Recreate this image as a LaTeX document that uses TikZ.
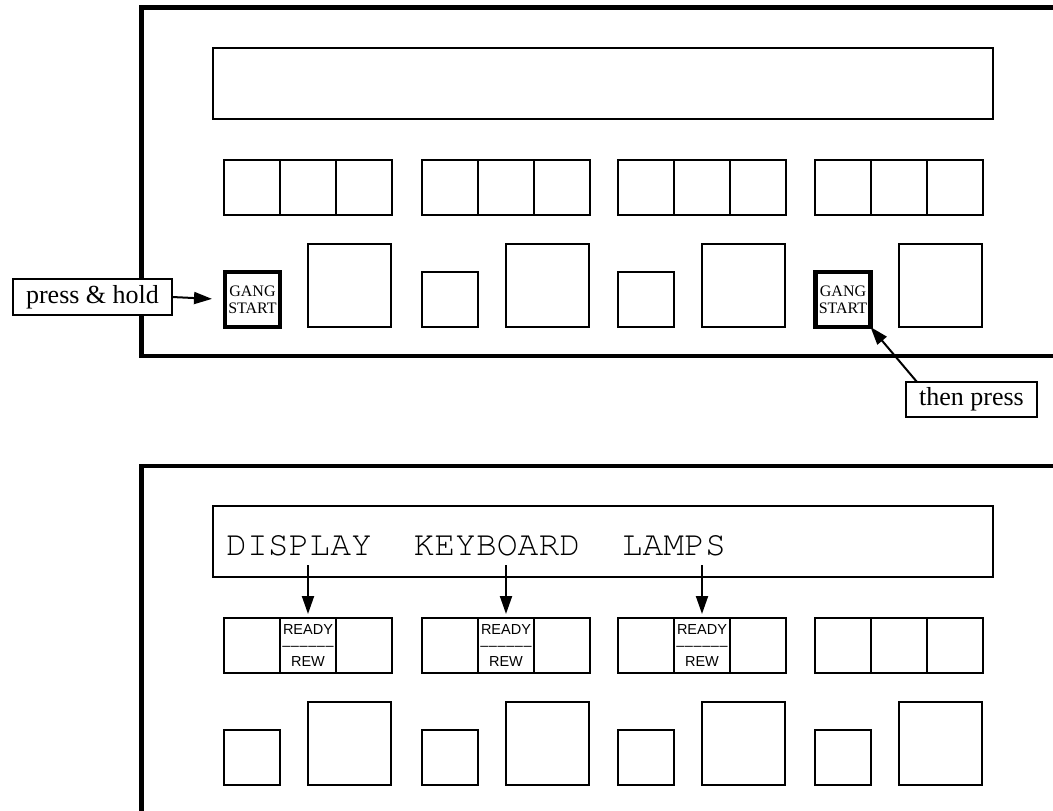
\documentclass[tikz,border=0pt]{standalone}
\usepackage{fontspec}
\setmainfont{Liberation Serif}
\setsansfont{Liberation Sans}
\setmonofont{TeX Gyre Cursor}
\usetikzlibrary{arrows.meta}
\begin{document}
\begin{tikzpicture}[x=1pt,y=-1pt,
  panel/.style={line width=4.5pt},
  disp/.style={draw,line width=2pt,inner sep=0pt,outer sep=0pt,minimum width=780pt,minimum height=71pt},
  cell/.style={draw,line width=2pt,inner sep=0pt,outer sep=0pt,minimum width=56pt,minimum height=55pt},
  big/.style={draw,line width=2pt,inner sep=0pt,outer sep=0pt,minimum width=83pt,minimum height=83pt},
  gang/.style={draw,line width=4.5pt,inner sep=0pt,outer sep=0pt,minimum width=55pt,minimum height=55pt,align=center,font=\fontsize{16}{17.3}\selectfont},
  ready/.style={cell,align=center,font=\sffamily\fontsize{14.5}{16}\selectfont},
  callout/.style={draw,fill=white,line width=2pt,inner sep=0pt,outer sep=0pt,font=\fontsize{26}{30}\selectfont},
  arr/.style={line width=2pt,-{Triangle[length=18pt,width=12pt]}}]
\useasboundingbox (0,0) rectangle (1053,811);

% ---------- top panel ----------
\draw[panel] (1060,7.5) -- (141.5,7.5) -- (141.5,356) -- (1060,356);
\node[disp] (tdisp) at (603,83) {};
\foreach \g/\x in {1/224,2/422,3/618,4/815}{
  \node[cell] (ta\g) at (\x+28,187.5) {};
  \node[cell] (tb\g) at (\x+84,187.5) {};
  \node[cell] (tc\g) at (\x+140,187.5) {};
  \node[big] (tbig\g) at (\x+125.5,285.5) {};
}
\node[gang] (gang1) at (252.5,299.5) {GANG\\START};
\node[cell] (tsmall2) at (450,299.5) {};
\node[cell] (tsmall3) at (646,299.5) {};
\node[gang] (gang4) at (843,299.5) {GANG\\START};

\node[callout,minimum width=159pt,minimum height=36pt] (press) at (92.5,297) {press \& hold};
\node[callout,minimum width=131pt,minimum height=35pt] (then) at (971.5,399.5) {then press};
\draw[arr,shorten >=13pt] (press.east) -- (gang1.west);
\coordinate (thenstart) at ([xshift=11pt]then.north west);
\draw[arr] (thenstart) -- (gang4.south east);

% ---------- bottom panel ----------
\draw[panel] (1060,466) -- (141.5,466) -- (141.5,820);
\node[disp] (bdisp) at (603,541) {};
\node[anchor=base west,inner sep=0pt,font=\ttfamily\fontsize{34.7}{40}\selectfont] (words) at (226,555) {DISPLAY\ \ KEYBOARD\ \ LAMPS};
\foreach \g/\x in {1/224,2/422,3/618}{
  \node[cell] (ba\g) at (\x+28,645.5) {};
  \node[ready] (bb\g) at (\x+84,645.5) {READY\\–\kern0.6pt–\kern0.6pt–\kern0.6pt–\kern0.6pt–\kern0.6pt–\\REW};
  \node[cell] (bc\g) at (\x+140,645.5) {};
  \coordinate (src\g) at (\x+84,565);
  \draw[arr,shorten >=4pt] (src\g) -- (bb\g.north);
}
\node[cell] (ba4) at (843,645.5) {};
\node[cell] (bb4) at (899,645.5) {};
\node[cell] (bc4) at (955,645.5) {};
\foreach \g/\x in {1/224,2/422,3/618,4/815}{
  \node[cell] (bsmall\g) at (\x+28,757.5) {};
  \node[big] (bbig\g) at (\x+125.5,743.5) {};
}
\end{tikzpicture}
\end{document}
